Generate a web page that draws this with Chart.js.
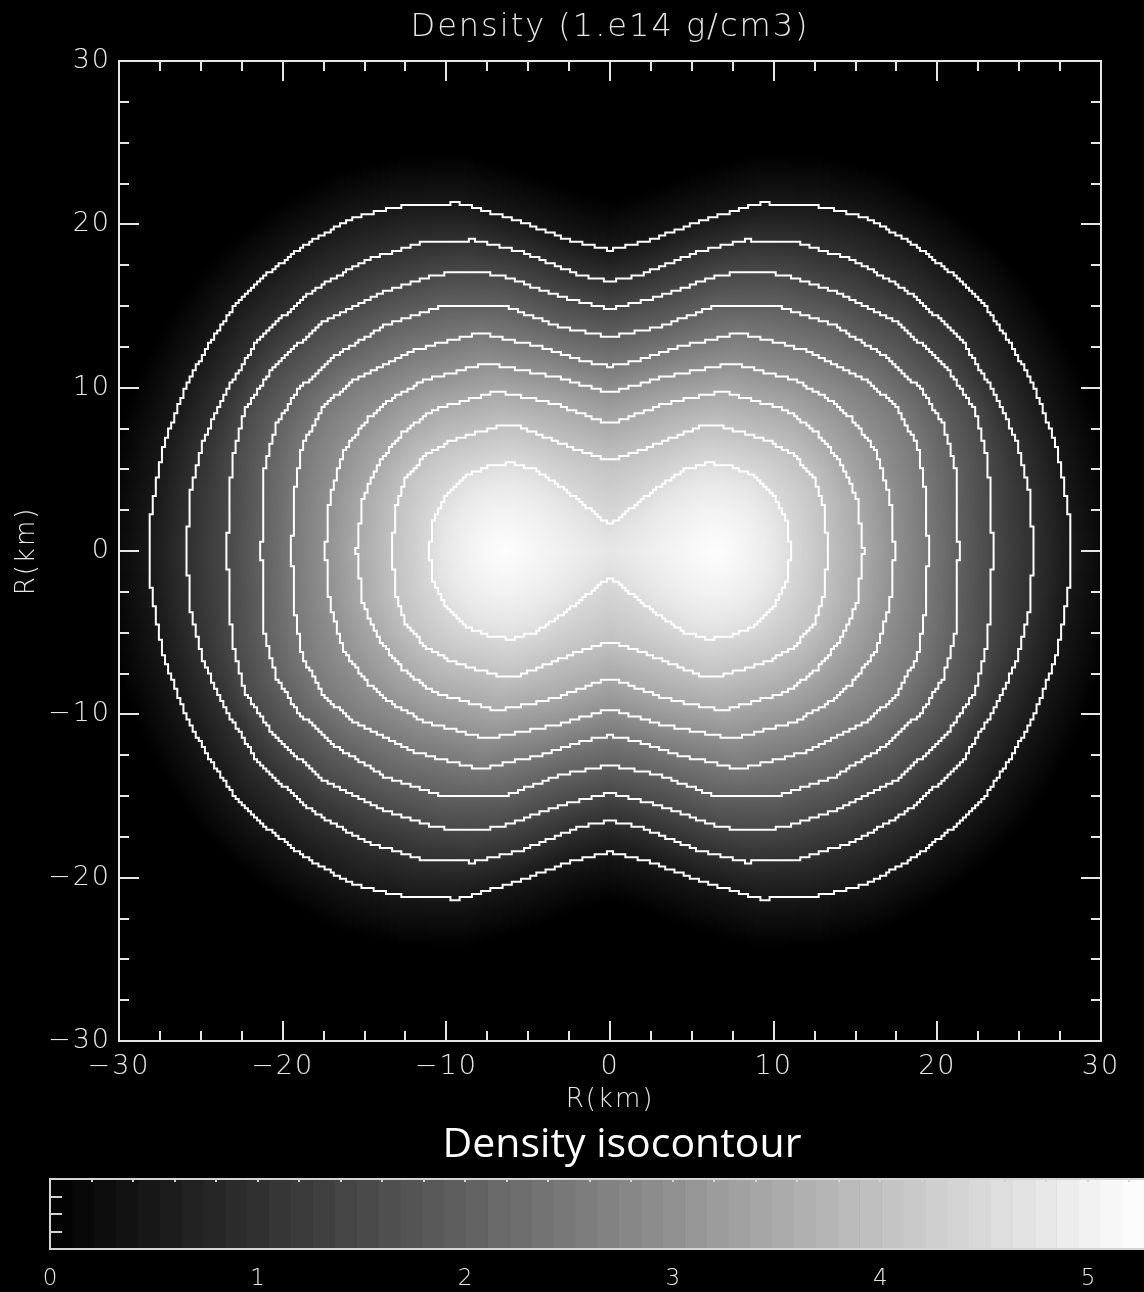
<!DOCTYPE html>
<html lang="en">
<head>
<meta charset="utf-8">
<title>Density isocontour</title>
<script src="https://cdn.jsdelivr.net/npm/chart.js@4.4.1/dist/chart.umd.min.js"></script>
<style>
  html, body { margin: 0; padding: 0; background: #000; }
  #pagina { position: relative; width: 1144px; height: 1292px; overflow: hidden; }
  #cajaMapa { position: absolute; left: 0; top: 0; width: 1144px; height: 1120px; }
  #cajaBarra { position: absolute; left: 0; top: 1120px; width: 1144px; height: 172px; }
  #leyenda { position: absolute; left: 0; top: 1118px; width: 1244px; text-align: center;
             font: 41px "Open Sans", sans-serif; line-height: 46px; color: #fff; }
</style>
</head>
<body>
<div id="pagina">
  <div id="cajaMapa"><canvas id="mapa"></canvas></div>
  <div id="cajaBarra"><canvas id="barra"></canvas></div>
  <div id="leyenda">Density isocontour</div>
</div>
<script>
// isocontour levels, outermost first (1.e14 g/cm3)
const niveles = [0.5, 1.0, 1.5, 2.0, 2.5, 3.0, 3.5, 4.0, 4.5];

// upper-right quarter of each isocontour in km, from the neck on x = 0 down to y = 0
const iso05 = [[0, 18.4], [2.4, 19.0], [5.5, 20.2], [9.2, 21.3], [12.4, 21.2], [15.7, 20.4], [18.7, 18.7], [21.4, 16.6], [23.0, 14.9], [24.6, 12.5], [25.9, 10.1], [27.3, 6.4], [28.0, 2.6], [28.2, 0]];
const iso10 = [[0, 16.5], [1.8, 16.9], [5.3, 18.3], [8.4, 19.05], [11.6, 18.85], [14.9, 17.8], [18.1, 16.0], [21.4, 13.1], [23.6, 9.5], [24.9, 6.6], [25.6, 3.8], [25.9, 0]];
const iso15 = [[0, 14.8], [3.05, 15.6], [6.7, 16.9], [8.75, 17.1], [10.8, 16.9], [14.05, 15.8], [17.7, 13.9], [20.6, 11.2], [22.3, 8.6], [23.1, 5.6], [23.4, 0]];
const iso20 = [[0, 13.1], [3.05, 13.7], [6.5, 15.05], [10.0, 15.05], [13.6, 13.9], [17.0, 11.8], [19.1, 9.8], [20.4, 7.7], [21.1, 5.0], [21.3, 0]];
const iso25 = [[0, 11.3], [1.8, 11.7], [4.3, 12.5], [7.9, 13.35], [12.0, 12.3], [15.8, 10.4], [17.6, 8.7], [18.8, 6.4], [19.3, 3.5], [19.45, 0]];
const iso30 = [[0, 9.7], [3.45, 10.7], [7.5, 11.5], [11.2, 10.5], [13.2, 9.45], [14.8, 8.1], [16.2, 6.2], [17.1, 3.4], [17.4, 0]];
const iso35 = [[0, 7.75], [3.45, 9.05], [6.9, 9.75], [10.8, 8.65], [12.6, 7.3], [14.0, 5.6], [15.1, 3.2], [15.5, 0]];
const iso40 = [[0, 5.5], [3.05, 6.6], [5.5, 7.6], [6.5, 7.7], [9.6, 6.8], [11.2, 5.9], [12.4, 4.6], [13.1, 2.7], [13.3, 0]];
const iso45 = [[0, 1.6], [0.4, 1.9], [2.45, 3.55], [4.5, 4.95], [6.1, 5.4], [7.5, 5.15], [8.95, 4.55], [10.2, 3.1], [10.8, 1.9], [11.05, 0]];
const isocontornos = [iso05, iso10, iso15, iso20, iso25, iso30, iso35, iso40, iso45];

// the two cores sit at +-nucleoX on the y = 0 line
const nucleoX = 6.5;
const densidadNucleo = 5.25;
// km past the outer contour where the envelope has faded out
const halo = 3.0;

// axes (km)
const rango = [-30, 30];
const pasoMayor = 10;
const pasoMenor = 2.5;

// colour bar
const barraRango = [0, 5.27];
const barraPaso = 1;
const barraPasoMenor = 0.2;
const barraNiveles = 50;

const celdasImagen = 480;
const celdasContorno = 320;
const colorTexto = '#e6e6e6';
const fuenteEjes = { family: 'DejaVu Sans', size: 27, weight: '200' };

function etiqueta(v) {
    return v < 0 ? '\u2212' + Math.abs(v) : String(v);
}

// quarter polygons closed through the origin
const poligonos = isocontornos.map(q => [[0, 0]].concat(q));

function dentro(px, py, poly) {
    let c = false;
    for (let i = 0, j = poly.length - 1; i < poly.length; j = i++) {
        const xi = poly[i][0], yi = poly[i][1], xj = poly[j][0], yj = poly[j][1];
        if ((yi > py) !== (yj > py) && px < (xj - xi) * (py - yi) / (yj - yi) + xi) c = !c;
    }
    return c;
}

function distancia(px, py, q) {
    let m = Infinity;
    for (let i = 0; i < q.length - 1; i++) {
        const ax = q[i][0], ay = q[i][1];
        const dx = q[i + 1][0] - ax, dy = q[i + 1][1] - ay;
        let t = ((px - ax) * dx + (py - ay) * dy) / (dx * dx + dy * dy);
        t = Math.max(0, Math.min(1, t));
        const d = Math.hypot(px - ax - t * dx, py - ay - t * dy);
        if (d < m) m = d;
    }
    return m;
}

// density between the two contours that bracket the point
function densidad(x, y) {
    const px = Math.abs(x), py = Math.abs(y);
    let k = -1;
    for (let i = 0; i < poligonos.length; i++) {
        if (dentro(px, py, poligonos[i])) k = i; else break;
    }
    if (k < 0) {
        const d = distancia(px, py, isocontornos[0]);
        return Math.max(0, niveles[0] * (1 - d / halo));
    }
    const d0 = distancia(px, py, isocontornos[k]);
    if (k === isocontornos.length - 1) {
        // the cores are flat-topped, so rise quickly once inside the last contour
        const dc = Math.hypot(px - nucleoX, py);
        return niveles[k] + (densidadNucleo - niveles[k]) * Math.pow(d0 / (d0 + dc), 0.6);
    }
    const d1 = distancia(px, py, isocontornos[k + 1]);
    return niveles[k] + (niveles[k + 1] - niveles[k]) * d0 / (d0 + d1);
}

function gris(v) {
    const g = Math.round(255 * Math.max(0, Math.min(1, (v - barraRango[0]) / (barraRango[1] - barraRango[0]))));
    return `rgb(${g},${g},${g})`;
}

// density sampled at cell centres, row 0 on top
function malla(n) {
    const h = (rango[1] - rango[0]) / n;
    const v = new Float32Array(n * n);
    for (let j = 0; j < n; j++) {
        const y = rango[1] - (j + 0.5) * h;
        for (let i = 0; i < n; i++) v[j * n + i] = densidad(rango[0] + (i + 0.5) * h, y);
    }
    return v;
}

function construirImagen() {
    const n = celdasImagen;
    const v = malla(n);
    const lienzo = document.createElement('canvas');
    lienzo.width = n;
    lienzo.height = n;
    const c = lienzo.getContext('2d');
    const img = c.createImageData(n, n);
    const escala = barraRango[1] - barraRango[0];
    for (let p = 0; p < n * n; p++) {
        const g = Math.round(255 * Math.min(1, v[p] / escala));
        img.data[4 * p] = g;
        img.data[4 * p + 1] = g;
        img.data[4 * p + 2] = g;
        img.data[4 * p + 3] = 255;
    }
    c.putImageData(img, 0, 0);
    return lienzo;
}

// contour traced along cell edges, runs of edges merged, gaps between runs
function escalones(v, n, nivel) {
    const h = (rango[1] - rango[0]) / n;
    const xb = i => rango[0] + i * h;
    const yb = j => rango[1] - j * h;
    const arriba = p => v[p] >= nivel;
    const pts = [];
    // vertical edges, walked down each column boundary
    for (let i = 0; i < n - 1; i++) {
        let inicio = -1;
        for (let j = 0; j <= n; j++) {
            const borde = j < n && arriba(j * n + i) !== arriba(j * n + i + 1);
            if (borde && inicio < 0) inicio = j;
            if (!borde && inicio >= 0) {
                pts.push({ x: xb(i + 1), y: yb(inicio) }, { x: xb(i + 1), y: yb(j) }, { x: null, y: null });
                inicio = -1;
            }
        }
    }
    // horizontal edges, walked along each row boundary
    for (let j = 0; j < n - 1; j++) {
        let inicio = -1;
        for (let i = 0; i <= n; i++) {
            const borde = i < n && arriba(j * n + i) !== arriba((j + 1) * n + i);
            if (borde && inicio < 0) inicio = i;
            if (!borde && inicio >= 0) {
                pts.push({ x: xb(inicio), y: yb(j + 1) }, { x: xb(i), y: yb(j + 1) }, { x: null, y: null });
                inicio = -1;
            }
        }
    }
    return pts;
}

const valoresContorno = malla(celdasContorno);

let imagen = null;
const mapaDensidad = {
    id: 'mapaDensidad',
    beforeDraw(chart) {
        // wide, evenly spaced lettering on the plot's own text
        chart.ctx.letterSpacing = '2px';
    },
    beforeDatasetsDraw(chart) {
        const { ctx, scales: { x, y } } = chart;
        if (!imagen) imagen = construirImagen();
        const izq = x.getPixelForValue(rango[0]), der = x.getPixelForValue(rango[1]);
        const arr = y.getPixelForValue(rango[1]), abj = y.getPixelForValue(rango[0]);
        ctx.save();
        ctx.imageSmoothingEnabled = true;
        ctx.drawImage(imagen, izq, arr, der - izq, abj - arr);
        ctx.restore();
    }
};

// box with inward ticks on all four sides
const marcoMapa = {
    id: 'marcoMapa',
    afterDatasetsDraw(chart) {
        const { ctx, chartArea: a, scales: { x, y } } = chart;
        ctx.save();
        ctx.strokeStyle = colorTexto;
        ctx.lineWidth = 2;
        ctx.beginPath();
        for (let v = rango[0]; v <= rango[1] + 1e-6; v += pasoMenor) {
            const largo = Math.abs(v % pasoMayor) < 1e-6 ? 20 : 10;
            const px = Math.round(x.getPixelForValue(v));
            const py = Math.round(y.getPixelForValue(v));
            ctx.moveTo(px, a.bottom); ctx.lineTo(px, a.bottom - largo);
            ctx.moveTo(px, a.top); ctx.lineTo(px, a.top + largo);
            ctx.moveTo(a.left, py); ctx.lineTo(a.left + largo, py);
            ctx.moveTo(a.right, py); ctx.lineTo(a.right - largo, py);
        }
        ctx.stroke();
        ctx.strokeRect(a.left, a.top, a.right - a.left, a.bottom - a.top);
        ctx.restore();
    }
};

const marcoBarra = {
    id: 'marcoBarra',
    afterDatasetsDraw(chart) {
        const { ctx, chartArea: a, scales: { x } } = chart;
        ctx.save();
        ctx.strokeStyle = '#d4d4d4';
        ctx.lineWidth = 2;
        ctx.strokeRect(a.left, a.top, a.right - a.left + 4, a.bottom - a.top);
        ctx.beginPath();
        for (let v = barraPasoMenor; v < barraRango[1]; v += barraPasoMenor) {
            const px = Math.round(x.getPixelForValue(v));
            ctx.moveTo(px, a.top); ctx.lineTo(px, a.top + 3);
        }
        for (let i = 1; i < 4; i++) {
            const py = Math.round(a.top + (a.bottom - a.top) * i / 4);
            ctx.moveTo(a.left, py); ctx.lineTo(a.left + 12, py);
        }
        ctx.stroke();
        ctx.restore();
    }
};

new Chart(document.getElementById('mapa'), {
    type: 'scatter',
    data: {
        datasets: niveles.map(nivel => ({
            label: String(nivel),
            data: escalones(valoresContorno, celdasContorno, nivel),
            showLine: true,
            spanGaps: false,
            borderColor: '#ffffff',
            borderWidth: 2,
            borderCapStyle: 'square',
            pointRadius: 0,
            tension: 0,
            fill: false
        }))
    },
    options: {
        responsive: true,
        maintainAspectRatio: false,
        animation: false,
        layout: { padding: { top: 0, right: 43, bottom: 0, left: 0 } },
        plugins: {
            legend: { display: false },
            tooltip: { enabled: false },
            title: {
                display: true,
                text: 'Density (1.e14 g/cm3)',
                color: colorTexto,
                fullSize: false,
                font: { family: 'DejaVu Sans', size: 32, weight: '200', lineHeight: 1 },
                padding: { top: 12, bottom: 17 }
            }
        },
        scales: {
            x: {
                type: 'linear',
                min: rango[0],
                max: rango[1],
                ticks: { stepSize: pasoMayor, color: colorTexto, font: fuenteEjes, padding: 10, maxRotation: 0, autoSkip: false, callback: etiqueta },
                grid: { display: false, drawTicks: false },
                border: { display: false },
                title: { display: true, text: 'R(km)', color: colorTexto, font: { family: 'DejaVu Sans', size: 26, weight: '200' }, padding: { top: 0, bottom: 4 } },
                afterFit(scale) { scale.height = 79; }
            },
            y: {
                type: 'linear',
                min: rango[0],
                max: rango[1],
                ticks: { stepSize: pasoMayor, color: colorTexto, font: fuenteEjes, padding: 8, autoSkip: false, callback: etiqueta },
                grid: { display: false, drawTicks: false },
                border: { display: false },
                title: { display: true, text: 'R(km)', color: colorTexto, font: { family: 'DejaVu Sans', size: 26, weight: '200' }, padding: { top: 12, bottom: 0 } },
                afterFit(scale) { scale.width = 119; }
            }
        }
    },
    plugins: [mapaDensidad, marcoMapa]
});

const bandas = Array.from({ length: barraNiveles }, (_, i) => i);
const anchoBanda = (barraRango[1] - barraRango[0]) / barraNiveles;

new Chart(document.getElementById('barra'), {
    type: 'bar',
    data: {
        labels: ['densidad'],
        datasets: bandas.map(i => ({
            data: [anchoBanda],
            backgroundColor: gris(barraRango[0] + (i + 0.5) * anchoBanda),
            borderWidth: 0,
            barPercentage: 1,
            categoryPercentage: 1
        }))
    },
    options: {
        indexAxis: 'y',
        responsive: true,
        maintainAspectRatio: false,
        animation: false,
        layout: { padding: { top: 59, right: 0, bottom: 0, left: 50 } },
        plugins: { legend: { display: false }, tooltip: { enabled: false } },
        scales: {
            x: {
                stacked: true,
                min: barraRango[0],
                max: barraRango[1],
                ticks: { stepSize: barraPaso, includeBounds: false, color: colorTexto, font: { family: 'DejaVu Sans', size: 23, weight: '200' }, padding: 16, maxRotation: 0 },
                grid: { display: false, drawTicks: false },
                border: { display: false },
                afterFit(scale) { scale.height = 43; }
            },
            y: { stacked: true, display: false }
        }
    },
    plugins: [marcoBarra]
});
</script>
</body>
</html>
